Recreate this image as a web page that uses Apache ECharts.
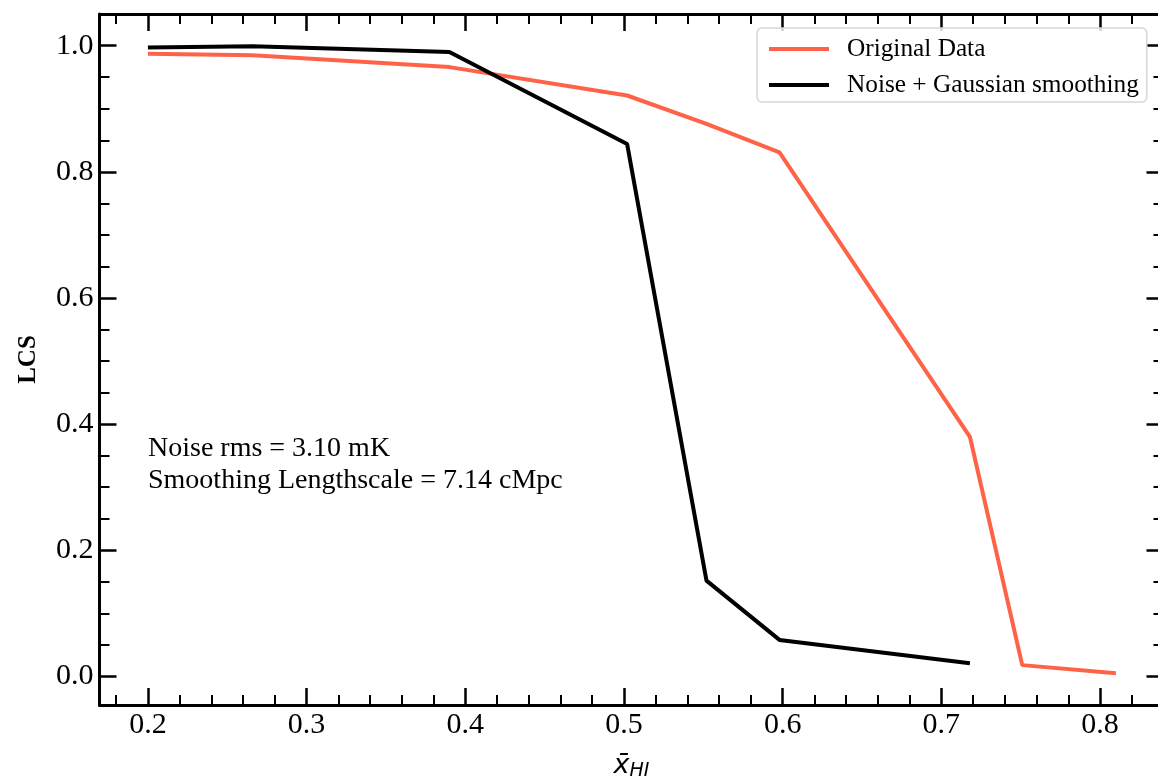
<!DOCTYPE html>
<html>
<head>
<meta charset="utf-8">
<script src="https://cdn.jsdelivr.net/npm/echarts@6/dist/echarts.min.js"></script>
<style>
html,body{margin:0;padding:0;background:#fff;}
#chart{width:1158px;height:783px;}
</style>
</head>
<body>
<div id="chart"></div>
<script>
// ---- data ----
const xOriginal = [0.200, 0.266, 0.390, 0.502, 0.552, 0.598, 0.718, 0.751, 0.810];
const yOriginal = [0.987, 0.985, 0.966, 0.921, 0.876, 0.831, 0.380, 0.018, 0.005];
const xNoise = [0.200, 0.266, 0.390, 0.502, 0.552, 0.598, 0.718];
const yNoise = [0.997, 0.999, 0.990, 0.844, 0.152, 0.058, 0.021];

const seriesNames = ['Original Data', 'Noise + Gaussian smoothing'];
const xMajorTicks = [0.2, 0.3, 0.4, 0.5, 0.6, 0.7, 0.8];
const xMinorTicks = [0.18, 0.22, 0.24, 0.26, 0.28, 0.32, 0.34, 0.36, 0.38, 0.42, 0.44, 0.46, 0.48,
  0.52, 0.54, 0.56, 0.58, 0.62, 0.64, 0.66, 0.68, 0.72, 0.74, 0.76, 0.78, 0.82, 0.84];
const yMajorTicks = [0.0, 0.2, 0.4, 0.6, 0.8, 1.0];
const yMinorTicks = [-0.05, 0.05, 0.1, 0.15, 0.25, 0.3, 0.35, 0.45, 0.5, 0.55, 0.65, 0.7, 0.75,
  0.85, 0.9, 0.95, 1.05];
const annotationLines = ['Noise rms = 3.10 mK', 'Smoothing Lengthscale = 7.14 cMpc'];

const xMin = 0.1695, xMax = 0.8400;
const yMin = -0.0452, yMax = 1.0502;

const serif = '"Liberation Serif", "Times New Roman", serif';

function pairs(xs, ys) { return xs.map((x, i) => [x, ys[i]]); }

function xAx(pos, ticks, major, withLine, withLabel) {
  return {
    type: 'value', gridIndex: 0, position: pos, min: xMin, max: xMax,
    axisLine: { show: withLine, onZero: false, lineStyle: { color: '#000', width: 3 } },
    axisTick: { show: true, inside: true, length: major ? 17 : 10, customValues: ticks,
      lineStyle: { color: '#000', width: major ? 2.5 : 2 } },
    axisLabel: { show: withLabel, customValues: ticks, formatter: v => v.toFixed(1),
      fontSize: 30, fontFamily: serif, color: '#000', margin: 5 },
    splitLine: { show: false }
  };
}
function yAx(pos, ticks, major, withLine, withLabel) {
  return {
    type: 'value', gridIndex: 0, position: pos, min: yMin, max: yMax,
    axisLine: { show: withLine, onZero: false, lineStyle: { color: '#000', width: 3 } },
    axisTick: { show: true, inside: true, length: major ? 17 : 10, customValues: ticks,
      lineStyle: { color: '#000', width: major ? 2.5 : 2 } },
    axisLabel: { show: withLabel, customValues: ticks, formatter: v => v.toFixed(1),
      fontSize: 30, fontFamily: serif, color: '#000', margin: 6 },
    splitLine: { show: false }
  };
}

const xBottom = xAx('bottom', xMajorTicks, true, true, true);
xBottom.name = '{a|x\u0304}{b|HI}';
xBottom.nameLocation = 'middle';
xBottom.nameGap = 45;
xBottom.nameTextStyle = {
  rich: {
    a: { fontFamily: '"DejaVu Sans"', fontStyle: 'italic', fontSize: 27, color: '#000' },
    b: { fontFamily: '"DejaVu Sans"', fontStyle: 'italic', fontSize: 19, color: '#000', padding: [12, 0, 0, 0] }
  }
};
const yLeft = yAx('left', yMajorTicks, true, true, true);
yLeft.name = 'LCS';
yLeft.nameLocation = 'middle';
yLeft.nameGap = 58;
yLeft.nameTextStyle = { fontFamily: serif, fontWeight: 'bold', fontSize: 25, color: '#000' };

const option = {
  animation: false,
  backgroundColor: '#fff',
  grid: { left: 99.5, top: 14, width: 1064, height: 691, containLabel: false, outerBoundsMode: 'none' },
  xAxis: [
    xBottom,
    xAx('bottom', xMinorTicks, false, false, false),
    xAx('top', xMajorTicks, true, true, false),
    xAx('top', xMinorTicks, false, false, false)
  ],
  yAxis: [
    yLeft,
    yAx('left', yMinorTicks, false, false, false),
    yAx('right', yMajorTicks, true, true, false),
    yAx('right', yMinorTicks, false, false, false)
  ],
  legend: {
    data: seriesNames,
    orient: 'vertical',
    left: 757, top: 28,
    padding: [6, 8, 2, 12],
    itemGap: 6,
    itemWidth: 60, itemHeight: 4,
    icon: 'rect',
    backgroundColor: 'rgba(255,255,255,0.8)',
    borderColor: '#d6d6d6', borderWidth: 1.5, borderRadius: 5,
    textStyle: { fontFamily: serif, fontSize: 25.3, color: '#000', lineHeight: 30, padding: [0, 0, 0, 13] }
  },
  graphic: [{
    type: 'text', left: 148, top: 433,
    style: { text: annotationLines.join('\n'), font: '28px ' + serif, lineHeight: 32, fill: '#000' }
  }],
  series: [
    { name: seriesNames[0], type: 'line', xAxisIndex: 0, yAxisIndex: 0, data: pairs(xOriginal, yOriginal),
      showSymbol: false, symbol: 'none', color: '#ff6347', lineStyle: { color: '#ff6347', width: 4 }, z: 2 },
    { name: seriesNames[1], type: 'line', xAxisIndex: 0, yAxisIndex: 0, data: pairs(xNoise, yNoise),
      showSymbol: false, symbol: 'none', color: '#000', lineStyle: { color: '#000', width: 4 }, z: 3 }
  ]
};

const chart = echarts.init(document.getElementById('chart'), null, { renderer: 'canvas' });
chart.setOption(option);
</script>
</body>
</html>
